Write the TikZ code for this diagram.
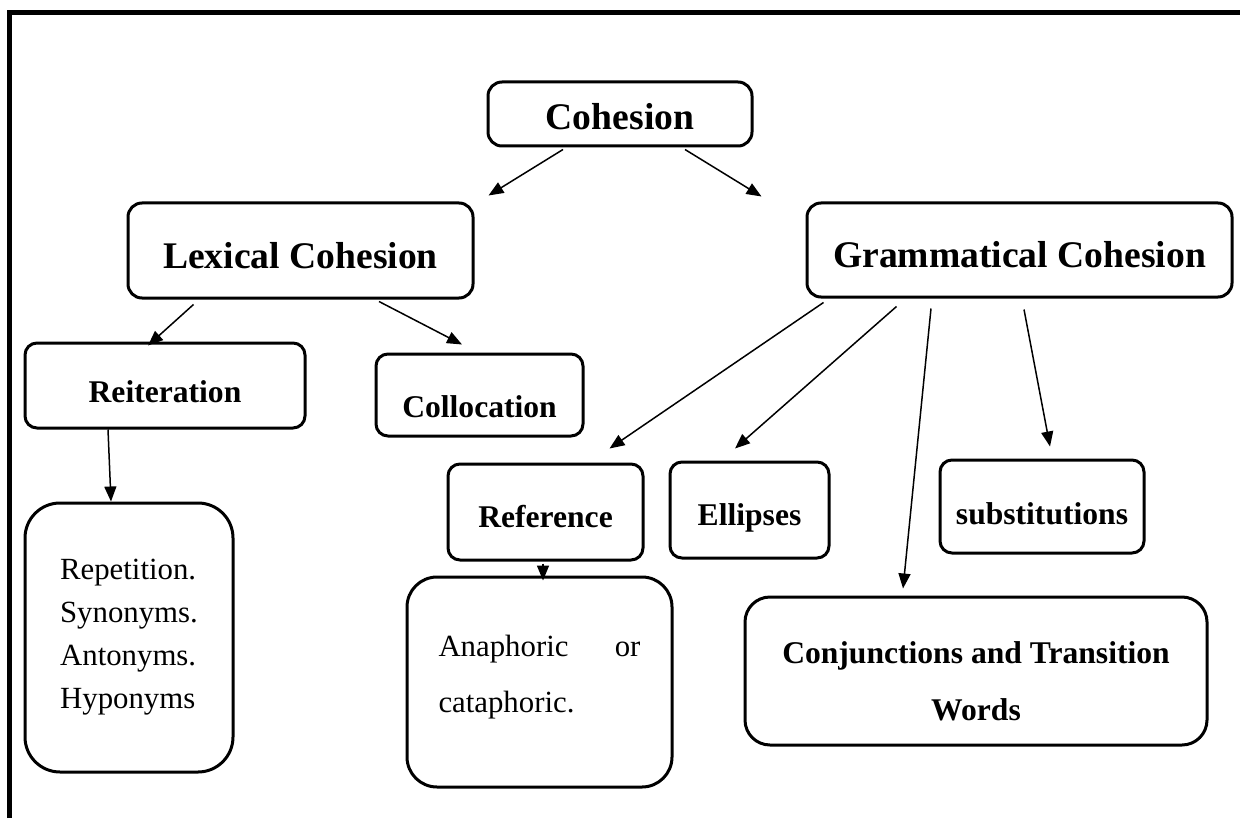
\documentclass[tikz,border=0pt]{standalone}
\usepackage{fontspec}
\setmainfont{Liberation Serif}
\usetikzlibrary{arrows.meta}
\usetikzlibrary{calc}

\begin{document}
\begin{tikzpicture}[x=0.5pt,y=-0.5pt,
  box/.style={draw,line width=1.5pt,rounded corners=6pt,inner sep=0pt,text height=16pt,text depth=0pt,
    font=\fontsize{15.8}{19}\selectfont\bfseries},
  mainbox/.style={box,rounded corners=7pt,text height=17.5pt,font=\fontsize{18.8}{22}\selectfont\bfseries},
  plainbox/.style={draw,line width=1.5pt,inner sep=0pt,font=\fontsize{15.4}{21.5}\selectfont},
  arr/.style={-{Triangle[length=7.5pt,width=6pt]},line width=0.75pt}]
\useasboundingbox (0,0) rectangle (1240,818);

% frame
\draw[line width=2.5pt] (9,818) -- (9,13) -- (1240,13);

% first level
\node[mainbox,text height=15.4pt,minimum width=132pt,minimum height=32pt] (coh) at (620,114) {Cohesion};
\node[mainbox,minimum width=172.5pt,minimum height=47.5pt] (lex) at (300.5,250.5) {Lexical Cohesion};
\node[mainbox,minimum width=212.5pt,minimum height=47pt] (gram) at (1019.5,250) {Grammatical Cohesion};

% lexical side
\node[box,text height=17pt,minimum width=140pt,minimum height=42.5pt] (reit) at (165,385.5) {Reiteration};
\node[box,text height=22pt,minimum width=103.5pt,minimum height=41pt] (coll) at (479.5,395) {Collocation};
\node[plainbox,rounded corners=17.5pt,align=left,minimum width=104pt,minimum height=134.5pt] (rep) at (129,637.5)
  {Repetition.\\Synonyms.\\Antonyms.\\Hyponyms};

% grammatical side
\node[box,text height=15.4pt,minimum width=97.5pt,minimum height=48pt] (ref) at (545.5,512) {Reference};
\node[box,text height=15.4pt,minimum width=79.5pt,minimum height=48pt] (ell) at (749.5,510) {Ellipses};
\node[box,text height=18pt,minimum width=102pt,minimum height=46.5pt] (sub) at (1042,506.5) {substitutions};
\node[plainbox,font=\fontsize{15.4}{28}\selectfont,rounded corners=15pt,text width=101pt,align=left,
  minimum width=132.5pt,minimum height=105pt] (ana) at (539.5,682)
  {Anaphoric \hfill or\\cataphoric.\rule[-8.5pt]{0pt}{8.5pt}};
\node[plainbox,font=\fontsize{15.8}{28.5}\selectfont\bfseries,rounded corners=12.5pt,align=center,
  minimum width=231pt,minimum height=74pt] (conj) at (976,671)
  {\rule{0pt}{21pt}Conjunctions and Transition\\Words};

% arrows
\draw[arr] ($(coh.south)+(-57,2)$) -- ($(lex.north east)+(14,-6)$);
\draw[arr] ($(coh.south)+(65,2)$) -- ($(gram.north west)+(-44,-5)$);
\draw[arr] ($(lex.south west)+(67,5)$) -- ($(reit.north)+(-17,4)$);
\draw[arr] ($(lex.south)+(78.5,2)$) -- ($(coll.north)+(-17.5,-8)$);
\draw[arr] ($(reit.south)+(-57,0)$) -- ($(rep.north)+(-18,0)$);
\draw[arr] ($(gram.south west)+(18,4)$) -- ($(ref.north east)+(-35,-14)$);
\draw[arr] ($(gram.south west)+(91,8)$) -- ($(ell.north)+(-14.5,-12)$);
\draw[arr] ($(gram.south)+(-88.5,10)$) -- ($(conj.north)+(-73,-7)$);
\draw[arr] ($(gram.south)+(4.5,11)$) -- ($(sub.north)+(8,-12)$);
\draw[arr] ($(ref.south)+(-2.5,2)$) -- ($(ana.north)+(3.5,5)$);

\end{tikzpicture}
\end{document}
